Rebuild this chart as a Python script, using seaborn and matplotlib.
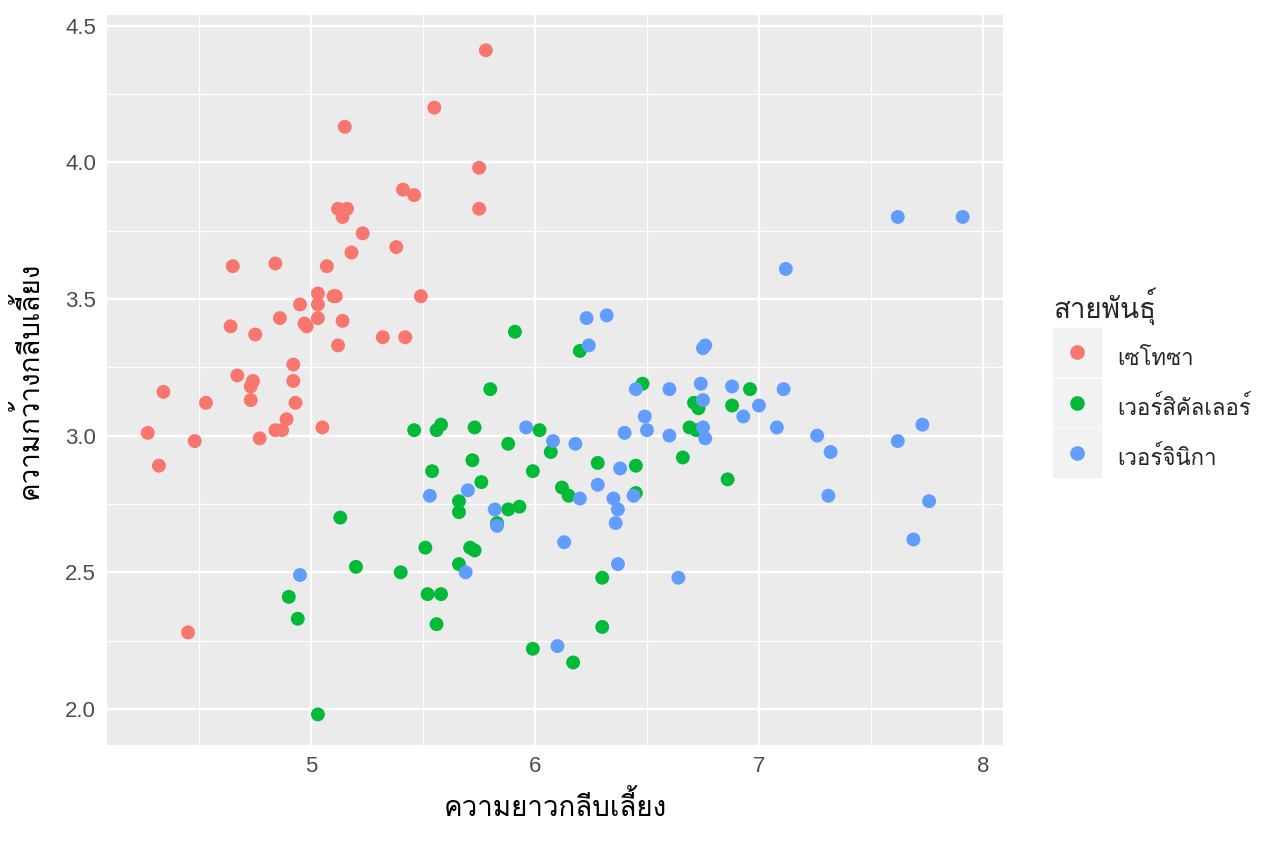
import pandas as pd
import seaborn as sns
import matplotlib
matplotlib.use('Agg')
import matplotlib.pyplot as plt
from matplotlib import font_manager
from matplotlib.ft2font import FT2Font
from matplotlib.lines import Line2D
from matplotlib.legend_handler import HandlerTuple
from matplotlib.ticker import MultipleLocator

# ข้อมูลที่อ่านจากภาพ (iris แบบ jitter)
setosa_x = [5.78, 5.55, 5.15, 5.75, 5.41, 5.46, 5.75, 5.12, 5.16, 5.14,
            5.23, 5.38, 5.18, 4.65, 4.84, 5.07, 5.03, 5.10, 5.11, 5.49,
            4.95, 5.03, 4.64, 4.75, 4.86, 4.97, 4.98, 5.03, 5.14, 5.32,
            5.42, 5.12, 4.92, 4.67, 4.74, 4.92, 4.34, 4.73, 4.73, 4.93,
            4.53, 4.89, 4.84, 4.87, 4.77, 5.05, 4.27, 4.48, 4.32, 4.45]
setosa_y = [4.41, 4.20, 4.13, 3.98, 3.90, 3.88, 3.83, 3.83, 3.83, 3.80,
            3.74, 3.69, 3.67, 3.62, 3.63, 3.62, 3.52, 3.51, 3.51, 3.51,
            3.48, 3.48, 3.40, 3.37, 3.43, 3.41, 3.40, 3.43, 3.42, 3.36,
            3.36, 3.33, 3.26, 3.22, 3.20, 3.20, 3.16, 3.18, 3.13, 3.12,
            3.12, 3.06, 3.02, 3.02, 2.99, 3.03, 3.01, 2.98, 2.89, 2.28]

versicolor_x = [5.91, 6.20, 5.80, 6.48, 5.46, 5.56, 5.58, 5.73, 6.02, 5.88,
                6.07, 5.72, 6.28, 6.45, 5.54, 5.99, 5.76, 6.12, 6.15, 6.45,
                5.66, 5.66, 5.88, 5.93, 5.83, 5.51, 5.71, 5.73, 5.66, 6.30,
                5.52, 5.58, 5.56, 6.30, 5.99, 6.17, 6.66, 6.69, 6.71, 6.73,
                6.72, 6.96, 6.88, 6.86, 5.13, 5.20, 5.40, 4.90, 4.94, 5.03]
versicolor_y = [3.38, 3.31, 3.17, 3.19, 3.02, 3.02, 3.04, 3.03, 3.02, 2.97,
                2.94, 2.91, 2.90, 2.89, 2.87, 2.87, 2.83, 2.81, 2.78, 2.79,
                2.76, 2.72, 2.73, 2.74, 2.68, 2.59, 2.59, 2.58, 2.53, 2.48,
                2.42, 2.42, 2.31, 2.30, 2.22, 2.17, 2.92, 3.03, 3.12, 3.10,
                3.02, 3.17, 3.11, 2.84, 2.70, 2.52, 2.50, 2.41, 2.33, 1.98]

virginica_x = [6.23, 6.32, 6.24, 6.45, 6.60, 6.49, 6.50, 6.40, 6.60, 5.96,
               6.08, 6.18, 6.38, 6.28, 6.44, 6.20, 6.35, 6.37, 6.36, 5.53,
               5.70, 5.82, 5.83, 6.13, 6.37, 6.64, 5.69, 6.10, 4.95, 6.76,
               6.75, 6.74, 6.88, 7.11, 6.75, 7.00, 6.93, 6.75, 6.76, 7.08,
               7.26, 7.32, 7.31, 7.62, 7.91, 7.12, 7.73, 7.62, 7.76, 7.69]
virginica_y = [3.43, 3.44, 3.33, 3.17, 3.17, 3.07, 3.02, 3.01, 3.00, 3.03,
               2.98, 2.97, 2.88, 2.82, 2.78, 2.77, 2.77, 2.73, 2.68, 2.78,
               2.80, 2.73, 2.67, 2.61, 2.53, 2.48, 2.50, 2.23, 2.49, 3.33,
               3.32, 3.19, 3.18, 3.17, 3.13, 3.11, 3.07, 3.03, 2.99, 3.03,
               3.00, 2.94, 2.78, 3.80, 3.80, 3.61, 3.04, 2.98, 2.76, 2.62]

species = ['เซโทซา', 'เวอร์สิคัลเลอร์', 'เวอร์จินิกา']
colors = ['#F8766D', '#00BA38', '#619CFF']

df = pd.DataFrame({
    'x': setosa_x + versicolor_x + virginica_x,
    'y': setosa_y + versicolor_y + virginica_y,
    'สายพันธุ์': [species[0]] * len(setosa_x) + [species[1]] * len(versicolor_x)
                 + [species[2]] * len(virginica_x),
})

# หาฟอนต์ที่มีอักษรไทย
thai_font = None
for f in font_manager.fontManager.ttflist:
    try:
        if 0x0E2A in FT2Font(f.fname).get_charmap():
            thai_font = f.name
            break
    except Exception:
        pass

sns.set_style('darkgrid', {'axes.facecolor': '#EBEBEB', 'grid.color': 'white'})
fams = ([thai_font] if thai_font else []) + ['DejaVu Sans']
plt.rcParams['font.family'] = fams

fig = plt.figure(figsize=(12.64, 8.43), dpi=100)
ax = fig.add_axes([107 / 1264, 1 - 745 / 843, 896 / 1264, 730 / 843])

sns.scatterplot(data=df, x='x', y='y', hue='สายพันธุ์', hue_order=species,
                palette=colors, s=100, linewidth=0, alpha=1, ax=ax, legend=False)

ax.set_xlim(4.088, 8.09)
ax.set_ylim(1.868, 4.539)
ax.xaxis.set_minor_locator(MultipleLocator(0.5))
ax.yaxis.set_minor_locator(MultipleLocator(0.25))
ax.set_yticks([2.0, 2.5, 3.0, 3.5, 4.0, 4.5], ['2.0', '2.5', '3.0', '3.5', '4.0', '4.5'])
ax.set_xticks([5, 6, 7, 8], ['5', '6', '7', '8'])
for lab in ax.get_xticklabels() + ax.get_yticklabels():
    lab.set_family(['Liberation Sans', 'DejaVu Sans'])
ax.grid(which='major', color='white', linewidth=1.7)
ax.grid(which='minor', color='white', linewidth=0.85)
ax.set_axisbelow(True)
for s in ax.spines.values():
    s.set_visible(False)
ax.tick_params(which='major', length=5, width=1.1, color='#333333',
               labelsize=16, labelcolor='#4D4D4D', pad=3)
ax.tick_params(which='minor', length=0)

ax.set_xlabel('ความยาวกลีบเลี้ยง', fontsize=20, color='black', labelpad=10)
ax.set_ylabel('ความกว้างกลีบเลี้ยง', fontsize=20, color='black', labelpad=15)

handles = [(Line2D([], [], marker='s', ms=34.5, color='#F2F2F2', ls=''),
            Line2D([], [], marker='o', ms=9.5, color=c, ls='')) for c in colors]
leg = fig.legend(handles, species, title='สายพันธุ์',
                 handler_map={tuple: HandlerTuple(ndivide=1, pad=0)},
                 loc='center left', bbox_to_anchor=(1053 / 1264, 1 - 382 / 843),
                 frameon=False, fontsize=16, title_fontsize=20,
                 handlelength=2.2, handleheight=2.1, labelspacing=0.65,
                 handletextpad=0.7, borderpad=0, borderaxespad=0,
                 alignment='left')

fig.savefig('out.png', dpi=100)
